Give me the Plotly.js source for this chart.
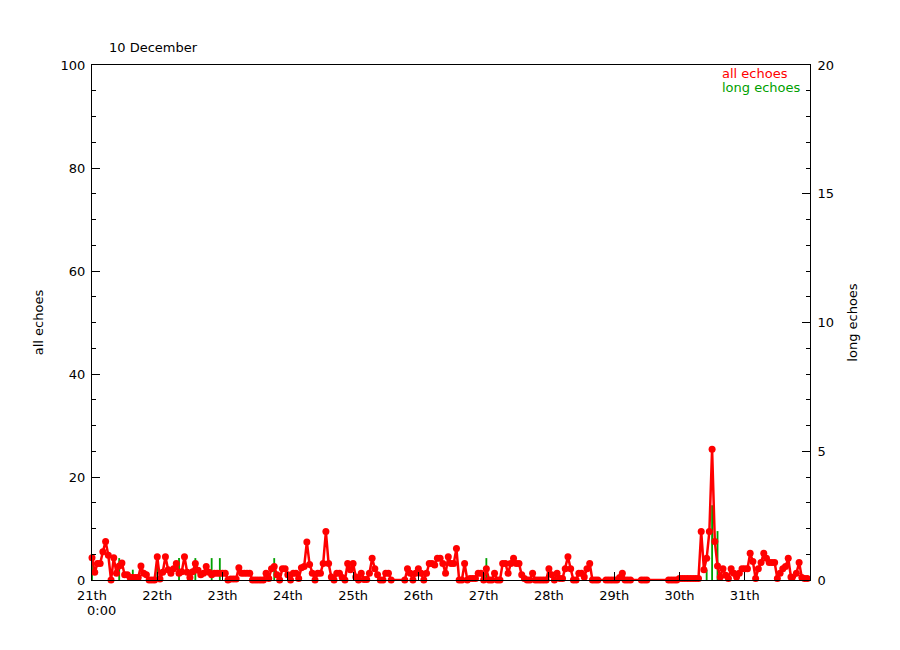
<!DOCTYPE html>
<html>
<head>
<meta charset="utf-8">
<script src="https://cdn.plot.ly/plotly-3.0.1.min.js"></script>
<style>html,body{margin:0;padding:0;background:#fff}</style>
</head>
<body>
<div id="chart" style="width:900px;height:650px"></div>
<script>
// ---- data ----
const firstDay = 21;           // 21 December, 0:00
const dayCount = 11;
const dayTicks = [21, 22, 23, 24, 25, 26, 27, 28, 29, 30, 31];
const dayLabels = ['21th', '22th', '23th', '24th', '25th', '26th', '27th', '28th', '29th', '30th', '31th'];
const startTimeLabel = '0:00';

// hourly counts of all echoes, one array per day (-1 = no data)
const day21 = [4.3, 1.5, 3.2, 3.2, 5.5, 7.5, 4.8, 0, 4.3, 1.3, 2.7, 3.3, 1, 1, 0.5, 0.5, 0.5, 0.5, 2.7, 1.3, 1, 0, 0, 0];
const day22 = [4.5, 0.2, 1.5, 4.5, 2, 1.3, 2.2, 3.2, 1.3, 1.6, 4.5, 1.5, 0.5, 1.6, 3.2, 1.9, 1, 1.3, 2.6, 1.5, 1, 1.3, 1.3, 1.3];
const day23 = [1.3, 1.3, 0, 0.2, 0.2, 0.2, 2.4, 1.3, 1.3, 1.3, 1.3, 0, 0, 0, 0, 0, 1.3, 0.3, 2.2, 2.6, 1, 0, 2.2, 2.2];
const day24 = [1, 0, 1.3, 1.3, 0.3, 2.4, 2.6, 7.4, 3, 1.3, 0, 1.3, 1.3, 3.2, 9.4, 3.2, 0.6, 0, 1.3, 1.3, 0.5, 0, 3.2, 2];
const day25 = [3.2, 0.6, 0, 1.3, 0.1, 0.1, 1.3, 4.2, 2.2, 1, 0, 0, 1.3, 1.3, 0, -1, -1, -1, -1, 0, 2.2, 1.3, 0, 1.3];
const day26 = [2.2, 1.3, 0, 1.3, 3.2, 3.2, 2.9, 4.2, 4.2, 3.2, 1.3, 4.5, 3.2, 3.2, 6.1, 0, 0, 3.2, 0, 0.3, 0.3, 0.3, 1.3, 1.3];
const day27 = [0, 2.2, 0, 0, 1.3, 0, 0, 3.2, 3.2, 1.3, 3.2, 4.2, 3.2, 3.2, 1, 0.3, 0, 0, 1.3, 0, 0, 0, 0, 0];
const day28 = [2.2, 1, 0, 1.3, 0.3, 0.3, 2.2, 4.5, 2.2, 0, 0, 1.3, 1.3, 0.6, 2.2, 3.2, 0, 0, 0, -1, -1, 0, 0, 0];
const day29 = [0, 0, 0.5, 1.3, 0, 0, 0, -1, -1, -1, 0, 0, 0, -1, -1, -1, -1, -1, -1, -1, 0, 0, 0, 0];
const day30 = [0.3, 0.3, 0.3, 0.3, 0.3, 0.3, 0.3, 0.3, 9.4, 2, 4.2, 9.4, 25.4, 7.5, 2.7, 0.6, 2.2, 0.9, 0.3, 2.2, 1.3, 0.6, 1.3, 2.2];
const day31 = [2.2, 2.2, 5.2, 3.6, 0.3, 2.2, 3.4, 5.2, 4.2, 3.4, 3.4, 3.4, 0.3, 1.3, 2.2, 2.6, 4.2, 0.6, -1, 1.3, 3.4, 0.5, 0.3, 0.3];

// long echoes: hour index (from 21th 0:00) and value
const longHours  = [0, 10, 15, 24, 32, 38, 44, 47, 67, 145, 226, 228, 230];
const longEchoes = [0.6, 0.85, 0.4, 0.6, 0.85, 0.85, 0.85, 0.85, 0.85, 0.85, 0.4, 2.9, 1.9];

// ---- build ----
const allEchoes = [].concat(day21, day22, day23, day24, day25, day26, day27, day28, day29, day30, day31);
const xAll = allEchoes.map((v, i) => firstDay + i / 24);
const yAll = allEchoes.map(v => (v < 0 ? 0 : v));
const mSize = allEchoes.map(v => (v < 0 ? 0 : 7));
const xLong = longHours.map(h => firstDay + h / 24);

const RED = '#ff0000';
const GREEN = '#00a000';
const FONT = 'DejaVu Sans, Liberation Sans, Arial, sans-serif';

const traces = [
  {
    type: 'bar', x: xLong, y: longEchoes, xaxis: 'x', yaxis: 'y',
    width: 0.028, marker: {color: GREEN, line: {width: 0}},
    showlegend: false, hoverinfo: 'skip'
  },
  {
    type: 'scatter', mode: 'lines+markers', x: xAll, y: yAll, xaxis: 'x', yaxis: 'y2',
    line: {color: RED, width: 2.5},
    marker: {color: RED, size: mSize, symbol: 'circle', opacity: 1, line: {width: 0}},
    cliponaxis: false, showlegend: false, hoverinfo: 'skip'
  }
];

const layout = {
  width: 900, height: 650,
  paper_bgcolor: '#fff', plot_bgcolor: '#fff',
  margin: {l: 92, r: 90, t: 65, b: 70, pad: 0},
  font: {family: FONT, size: 13, color: '#000'},
  showlegend: false,
  title: {text: '10 December', xref: 'container', yref: 'container', x: 109 / 900, xanchor: 'left', y: 1 - 47 / 650, yanchor: 'middle', font: {family: FONT, size: 13, color: '#000'}},
  xaxis: {
    range: [firstDay, firstDay + dayCount], tickmode: 'array', tickvals: dayTicks, ticktext: dayLabels,
    ticks: 'inside', ticklen: 8, tickcolor: '#000', tickwidth: 1, ticklabelstandoff: 3,
    showline: true, linecolor: '#000', linewidth: 1, mirror: true,
    showgrid: false, zeroline: false, tickfont: {family: FONT, size: 13, color: '#000'}
  },
  yaxis: {
    side: 'right', range: [0, 20], tickmode: 'linear', tick0: 0, dtick: 5,
    ticks: 'inside', ticklen: 8, tickcolor: '#000', ticklabelstandoff: 4,
    minor: {dtick: 1, ticks: 'inside', ticklen: 4, tickcolor: '#000', showgrid: false},
    showline: true, linecolor: '#000', linewidth: 1,
    showgrid: false, zeroline: false, tickfont: {family: FONT, size: 13, color: '#000'},
    title: {text: 'long echoes', standoff: 14, font: {family: FONT, size: 13, color: '#000'}}
  },
  yaxis2: {
    overlaying: 'y', side: 'left', range: [0, 100], tickmode: 'linear', tick0: 0, dtick: 20,
    ticks: 'inside', ticklen: 8, tickcolor: '#000', ticklabelstandoff: 3,
    minor: {dtick: 5, ticks: 'inside', ticklen: 4, tickcolor: '#000', showgrid: false},
    showline: true, linecolor: '#000', linewidth: 1,
    showgrid: false, zeroline: false, tickfont: {family: FONT, size: 13, color: '#000'},
    title: {text: 'all echoes', standoff: 14, font: {family: FONT, size: 13, color: '#000'}}
  },
  annotations: [
    {text: startTimeLabel, xref: 'x', yref: 'paper', x: firstDay, xshift: 9, y: 0, yshift: -21, xanchor: 'center', yanchor: 'top', showarrow: false, font: {family: FONT, size: 13, color: '#000'}},
    {text: 'all echoes', xref: 'paper', yref: 'paper', x: (720 - 92) / 718, y: 1 - (73 - 65) / 515, xanchor: 'left', yanchor: 'middle', showarrow: false, font: {family: FONT, size: 13, color: RED}},
    {text: 'long echoes', xref: 'paper', yref: 'paper', x: (720 - 92) / 718, y: 1 - (87 - 65) / 515, xanchor: 'left', yanchor: 'middle', showarrow: false, font: {family: FONT, size: 13, color: GREEN}}
  ]
};

Plotly.newPlot('chart', traces, layout, {staticPlot: true, displayModeBar: false});
</script>
</body>
</html>
